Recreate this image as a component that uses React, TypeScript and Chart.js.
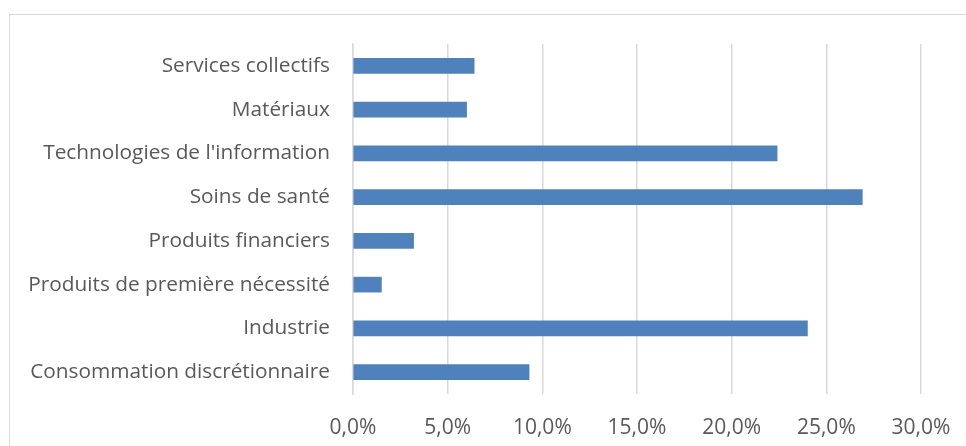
import React, { useEffect, useRef } from "react";
import { Chart, registerables } from "chart.js";

Chart.register(...registerables);

const categories = [
  "Services collectifs",
  "Matériaux",
  "Technologies de l'information",
  "Soins de santé",
  "Produits financiers",
  "Produits de première nécessité",
  "Industrie",
  "Consommation discrétionnaire",
];
const values = [6.4, 6.0, 22.4, 26.9, 3.2, 1.5, 24.0, 9.3];
const xMin = 0;
const xMax = 30;
const xStep = 5;

const FONT = "'Open Sans', 'Liberation Sans', sans-serif";

export default function App() {
  const ref = useRef<HTMLCanvasElement | null>(null);
  useEffect(() => {
    if (!ref.current) return;
    const chart = new Chart(ref.current, {
      type: "bar",
      data: {
        labels: categories,
        datasets: [
          {
            data: values,
            backgroundColor: "#4F81BD",
            borderColor: "#4F81BD",
            borderWidth: 0,
            barThickness: 15,
          },
        ],
      },
      options: {
        indexAxis: "y",
        responsive: false,
        animation: false,
        maintainAspectRatio: false,
        layout: { padding: { top: 44, right: 45, bottom: 0, left: 0 } },
        plugins: { legend: { display: false }, tooltip: { enabled: false } },
        scales: {
          x: {
            min: xMin,
            max: xMax,
            ticks: {
              stepSize: xStep,
              padding: 21,
              color: "#595959",
              font: { family: FONT, size: 21 },
              callback: (v: any) => Number(v).toFixed(1).replace(".", ",") + "%",
            },
            grid: { color: "#d9d9d9", lineWidth: 1.5, drawTicks: false },
            border: { display: false },
            afterFit: (s: any) => {
              s.height = 52;
              s.paddingLeft = 0;
              s.paddingRight = 0;
            },
          },
          y: {
            ticks: {
              padding: 23,
              color: "#595959",
              font: { family: FONT, size: 20.8 },
            },
            grid: { display: false, drawTicks: false },
            border: { display: true, color: "#d9d9d9", width: 1.5 },
            afterFit: (s: any) => {
              s.width = 353;
              s.paddingTop = 0;
              s.paddingBottom = 0;
            },
          },
        },
      },
    });
    return () => chart.destroy();
  }, []);
  return (
    <div style={{ position: "absolute", left: 0, top: 0, width: 966, height: 446, background: "#fff", overflow: "hidden" }}>
      <div
        style={{
          position: "absolute",
          left: 9,
          top: 14,
          width: 980,
          height: 460,
          border: "1px solid #d9d9d9",
        }}
      />
      <canvas ref={ref} width={966} height={446} style={{ position: "absolute", left: 0, top: 0 }} />
    </div>
  );
}
